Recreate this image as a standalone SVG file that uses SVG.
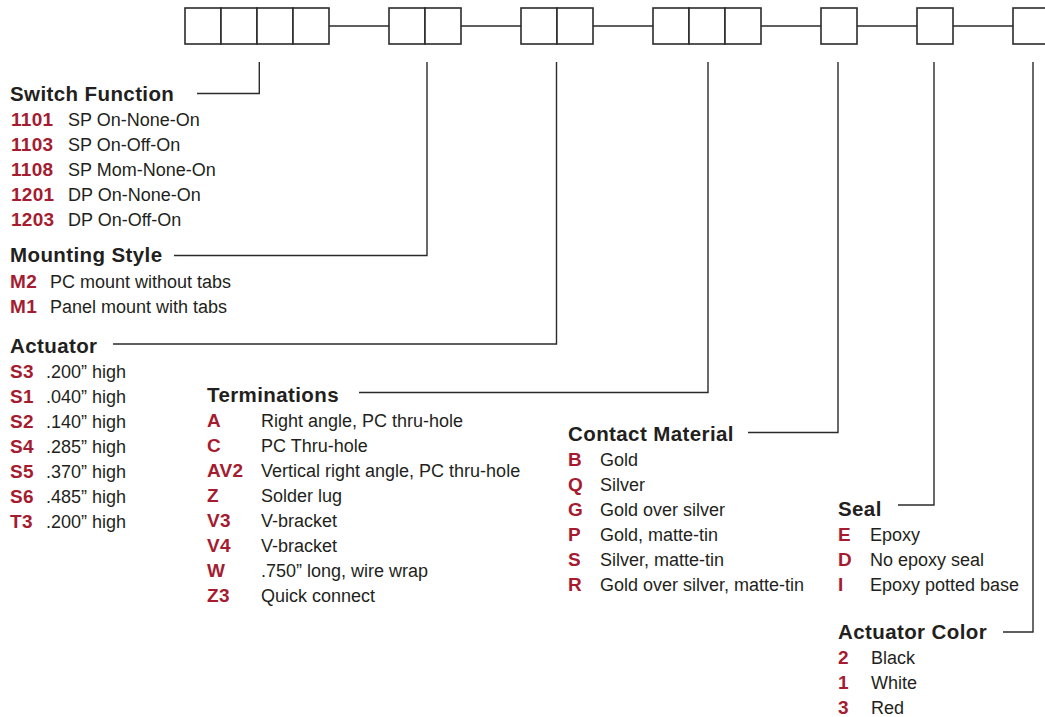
<svg xmlns="http://www.w3.org/2000/svg" width="1045" height="717" viewBox="0 0 1045 717">
<style>
.box{fill:#fff;stroke:#2b2b2b;stroke-width:1.6}
.ln{fill:none;stroke:#2b2b2b;stroke-width:1.4}
.t{font-family:"Liberation Sans",Arial,sans-serif;font-size:20.5px;font-weight:bold;fill:#231f20;letter-spacing:0.4px}
.c{font-family:"Liberation Sans",Arial,sans-serif;font-size:19px;font-weight:bold;fill:#a51c30;letter-spacing:0.3px}
.d{font-family:"Liberation Sans",Arial,sans-serif;font-size:18px;fill:#231f20}
</style>
<rect width="1045" height="717" fill="#fff"/>
<g id="connectors">
<path class="ln" d="M329 26H389M461 26H521M593 26H653M761 26H821M857 26H917M953 26H1013"/>
<path class="ln" d="M259.3 62V93.5H197"/>
<path class="ln" d="M427 62V255.5H174"/>
<path class="ln" d="M556.5 62V344H113"/>
<path class="ln" d="M708 62V392.5H359"/>
<path class="ln" d="M838 62V432.5H748"/>
<path class="ln" d="M934 62V505H898"/>
<path class="ln" d="M1033 62V632H1003"/>
</g>
<g id="code-boxes">
<rect class="box" x="185" y="8" width="36" height="36"/>
<rect class="box" x="221" y="8" width="36" height="36"/>
<rect class="box" x="257" y="8" width="36" height="36"/>
<rect class="box" x="293" y="8" width="36" height="36"/>
<rect class="box" x="389" y="8" width="36" height="36"/>
<rect class="box" x="425" y="8" width="36" height="36"/>
<rect class="box" x="521" y="8" width="36" height="36"/>
<rect class="box" x="557" y="8" width="36" height="36"/>
<rect class="box" x="653" y="8" width="36" height="36"/>
<rect class="box" x="689" y="8" width="36" height="36"/>
<rect class="box" x="725" y="8" width="36" height="36"/>
<rect class="box" x="821" y="8" width="36" height="36"/>
<rect class="box" x="917" y="8" width="36" height="36"/>
<rect class="box" x="1013" y="8" width="36" height="36"/>
</g>
<g id="switch-function">
<text class="t" x="10" y="101">Switch Function</text>
<text class="c" x="11" y="126">1101</text><text class="d" x="68" y="126">SP On-None-On</text>
<text class="c" x="11" y="151">1103</text><text class="d" x="68" y="151">SP On-Off-On</text>
<text class="c" x="11" y="176">1108</text><text class="d" x="68" y="176">SP Mom-None-On</text>
<text class="c" x="11" y="201">1201</text><text class="d" x="68" y="201">DP On-None-On</text>
<text class="c" x="11" y="226">1203</text><text class="d" x="68" y="226">DP On-Off-On</text>
</g>
<g id="mounting-style">
<text class="t" x="10" y="262">Mounting Style</text>
<text class="c" x="10" y="287.5">M2</text><text class="d" x="50" y="287.5">PC mount without tabs</text>
<text class="c" x="10" y="312.5">M1</text><text class="d" x="50" y="312.5">Panel mount with tabs</text>
</g>
<g id="actuator">
<text class="t" x="10" y="353">Actuator</text>
<text class="c" x="10" y="377.5">S3</text><text class="d" x="46" y="377.5">.200” high</text>
<text class="c" x="10" y="402.5">S1</text><text class="d" x="46" y="402.5">.040” high</text>
<text class="c" x="10" y="427.5">S2</text><text class="d" x="46" y="427.5">.140” high</text>
<text class="c" x="10" y="452.5">S4</text><text class="d" x="46" y="452.5">.285” high</text>
<text class="c" x="10" y="477.5">S5</text><text class="d" x="46" y="477.5">.370” high</text>
<text class="c" x="10" y="502.5">S6</text><text class="d" x="46" y="502.5">.485” high</text>
<text class="c" x="10" y="527.5">T3</text><text class="d" x="46" y="527.5">.200” high</text>
</g>
<g id="terminations">
<text class="t" x="207" y="401.5">Terminations</text>
<text class="c" x="207" y="426.5">A</text><text class="d" x="261" y="426.5">Right angle, PC thru-hole</text>
<text class="c" x="207" y="451.5">C</text><text class="d" x="261" y="451.5">PC Thru-hole</text>
<text class="c" x="207" y="476.5">AV2</text><text class="d" x="261" y="476.5">Vertical right angle, PC thru-hole</text>
<text class="c" x="207" y="501.5">Z</text><text class="d" x="261" y="501.5">Solder lug</text>
<text class="c" x="207" y="526.5">V3</text><text class="d" x="261" y="526.5">V-bracket</text>
<text class="c" x="207" y="551.5">V4</text><text class="d" x="261" y="551.5">V-bracket</text>
<text class="c" x="207" y="576.5">W</text><text class="d" x="261" y="576.5">.750” long, wire wrap</text>
<text class="c" x="207" y="601.5">Z3</text><text class="d" x="261" y="601.5">Quick connect</text>
</g>
<g id="contact-material">
<text class="t" x="568" y="440.5">Contact Material</text>
<text class="c" x="568" y="465.5">B</text><text class="d" x="600" y="465.5">Gold</text>
<text class="c" x="568" y="490.5">Q</text><text class="d" x="600" y="490.5">Silver</text>
<text class="c" x="568" y="515.5">G</text><text class="d" x="600" y="515.5">Gold over silver</text>
<text class="c" x="568" y="540.5">P</text><text class="d" x="600" y="540.5">Gold, matte-tin</text>
<text class="c" x="568" y="565.5">S</text><text class="d" x="600" y="565.5">Silver, matte-tin</text>
<text class="c" x="568" y="590.5">R</text><text class="d" x="600" y="590.5">Gold over silver, matte-tin</text>
</g>
<g id="seal">
<text class="t" x="838" y="515.5">Seal</text>
<text class="c" x="838" y="541">E</text><text class="d" x="870" y="541">Epoxy</text>
<text class="c" x="838" y="566">D</text><text class="d" x="870" y="566">No epoxy seal</text>
<text class="c" x="838" y="591">I</text><text class="d" x="870" y="591">Epoxy potted base</text>
</g>
<g id="actuator-color">
<text class="t" x="838" y="639">Actuator Color</text>
<text class="c" x="838" y="664">2</text><text class="d" x="871" y="664">Black</text>
<text class="c" x="838" y="689">1</text><text class="d" x="871" y="689">White</text>
<text class="c" x="838" y="714">3</text><text class="d" x="871" y="714">Red</text>
</g>
</svg>
